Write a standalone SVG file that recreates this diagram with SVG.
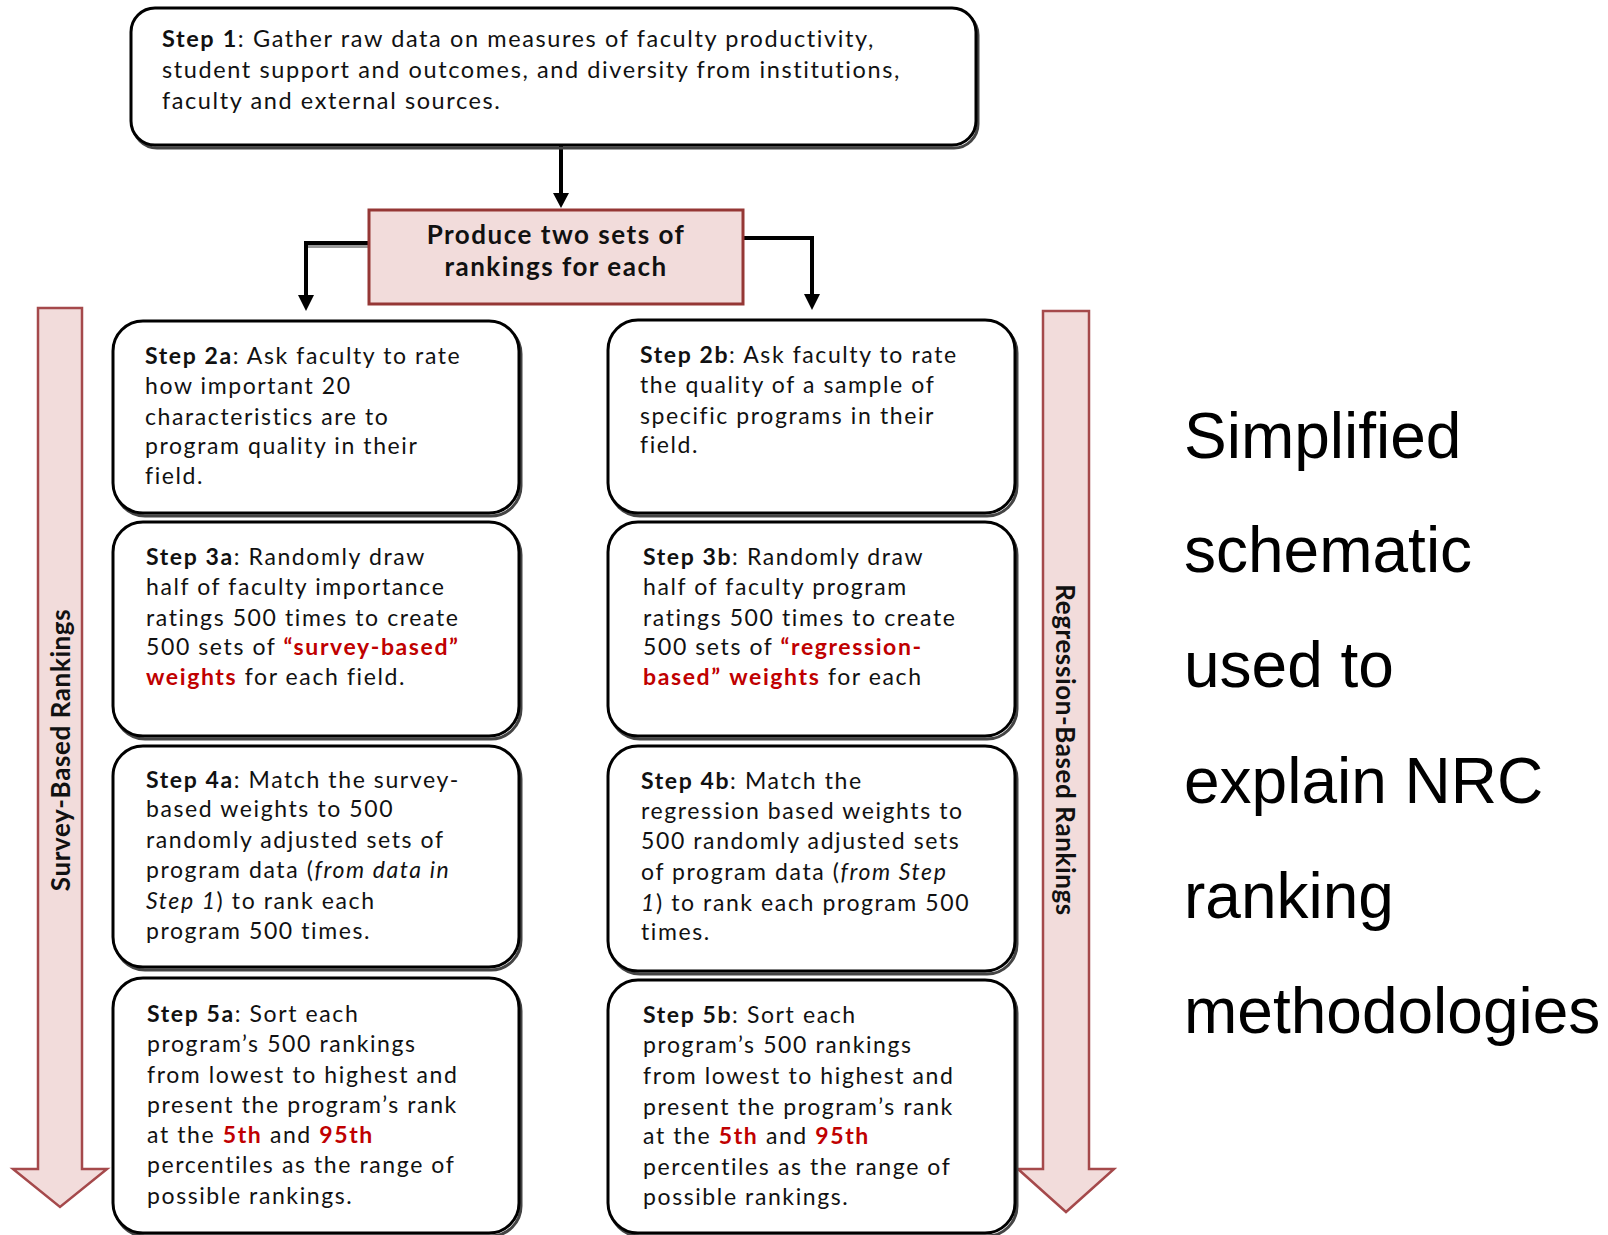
<svg xmlns="http://www.w3.org/2000/svg" width="1608" height="1235" viewBox="0 0 1608 1235">
<style>
.box{fill:#fff;stroke:#000;stroke-width:3}
.shadow{fill:none;stroke:#444;stroke-width:3}
.t{font-family:Lato,"Liberation Sans",sans-serif;font-size:23px;letter-spacing:1.6px;fill:#111}
.t1{font-family:Lato,"Liberation Sans",sans-serif;font-size:23.5px;letter-spacing:1.6px;fill:#111}
.b{font-weight:bold}
.i{font-style:italic}
.r{fill:#c00000;font-weight:bold}
.pink{fill:#f2dcdb;stroke:#953735;stroke-width:3}
.pt{font-family:Lato,"Liberation Sans",sans-serif;font-size:26px;letter-spacing:1.5px;font-weight:bold;fill:#111;text-anchor:middle}
.band{fill:#f2dcdb;stroke:#a5494b;stroke-width:2.5}
.bt{font-family:Lato,"Liberation Sans",sans-serif;font-size:26px;letter-spacing:0.6px;font-weight:bold;fill:#111;text-anchor:middle}
.conn{fill:none;stroke:#000;stroke-width:4}
.title{font-family:"Liberation Sans",Arial,sans-serif;font-size:64px;fill:#000}
</style>
<rect width="1608" height="1235" fill="#fff"/>

<g id="connectors">
<line class="conn" x1="561" y1="146" x2="561" y2="194"/>
<path d="M553,193 L569,193 L561,208 Z" fill="#000"/>
<path d="M369,246 L308,246" fill="none" stroke="#999" stroke-width="4"/>
<path class="conn" d="M369,243 L306,243 L306,296"/>
<path d="M298,295 L314,295 L306,311 Z" fill="#000"/>
<path class="conn" d="M743,238 L812,238 L812,295"/>
<path d="M804,294 L820,294 L812,310 Z" fill="#000"/>
</g>

<g id="survey-band">
<path class="band" d="M38,308 L82,308 L82,1169 L107,1169 L60,1207 L13,1169 L38,1169 Z"/>
<text class="bt" transform="translate(70,750) rotate(-90)">Survey-Based Rankings</text>
</g>

<g id="regression-band">
<path class="band" d="M1043,311 L1089,311 L1089,1169 L1114,1169 L1066,1212 L1018,1169 L1043,1169 Z"/>
<text class="bt" transform="translate(1056,750) rotate(90)">Regression-Based Rankings</text>
</g>

<g id="step1">
<rect class="shadow" x="133" y="11" width="845" height="137" rx="24"/>
<rect class="box" x="131" y="8" width="845" height="137" rx="24"/>
<text class="t1" x="162" y="47"><tspan class="b">Step 1</tspan>: Gather raw data on measures of faculty productivity,</text>
<text class="t1" x="162" y="78">student support and outcomes, and diversity from institutions,</text>
<text class="t1" x="162" y="109">faculty and external sources.</text>
</g>

<g id="produce">
<rect class="pink" x="369" y="210" width="374" height="94"/>
<text class="pt" x="556" y="244">Produce two sets of</text>
<text class="pt" x="556" y="276">rankings for each</text>
</g>

<g id="step2a">
<rect class="shadow" x="115" y="324" width="406" height="192" rx="30"/>
<rect class="box" x="113" y="321" width="406" height="192" rx="30"/>
<text class="t" x="145" y="364"><tspan class="b">Step 2a</tspan>: Ask faculty to rate</text>
<text class="t" x="145" y="394">how important 20</text>
<text class="t" x="145" y="425">characteristics are to</text>
<text class="t" x="145" y="454">program quality in their</text>
<text class="t" x="145" y="484">field.</text>
</g>

<g id="step3a">
<rect class="shadow" x="115" y="525" width="406" height="214" rx="30"/>
<rect class="box" x="113" y="522" width="406" height="214" rx="30"/>
<text class="t" x="146" y="565"><tspan class="b">Step 3a</tspan>: Randomly draw</text>
<text class="t" x="146" y="595">half of faculty importance</text>
<text class="t" x="146" y="626">ratings 500 times to create</text>
<text class="t" x="146" y="655">500 sets of <tspan class="r">“survey-based”</tspan></text>
<text class="t" x="146" y="685"><tspan class="r">weights</tspan> for each field.</text>
</g>

<g id="step4a">
<rect class="shadow" x="115" y="749" width="406" height="221" rx="30"/>
<rect class="box" x="113" y="746" width="406" height="221" rx="30"/>
<text class="t" x="146" y="788"><tspan class="b">Step 4a</tspan>: Match the survey-</text>
<text class="t" x="146" y="817">based weights to 500</text>
<text class="t" x="146" y="848">randomly adjusted sets of</text>
<text class="t" x="146" y="878">program data (<tspan class="i">from data in</tspan></text>
<text class="t" x="146" y="909"><tspan class="i">Step 1</tspan>) to rank each</text>
<text class="t" x="146" y="939">program 500 times.</text>
</g>

<g id="step5a">
<rect class="shadow" x="115" y="981" width="406" height="255" rx="30"/>
<rect class="box" x="113" y="978" width="406" height="255" rx="30"/>
<text class="t" x="147" y="1022"><tspan class="b">Step 5a</tspan>: Sort each</text>
<text class="t" x="147" y="1052">program’s 500 rankings</text>
<text class="t" x="147" y="1083">from lowest to highest and</text>
<text class="t" x="147" y="1113">present the program’s rank</text>
<text class="t" x="147" y="1143">at the <tspan class="r">5th</tspan> and <tspan class="r">95th</tspan></text>
<text class="t" x="147" y="1173">percentiles as the range of</text>
<text class="t" x="147" y="1204">possible rankings.</text>
</g>

<g id="step2b">
<rect class="shadow" x="610" y="323" width="407" height="193" rx="30"/>
<rect class="box" x="608" y="320" width="407" height="193" rx="30"/>
<text class="t" x="640" y="363"><tspan class="b">Step 2b</tspan>: Ask faculty to rate</text>
<text class="t" x="640" y="393">the quality of a sample of</text>
<text class="t" x="640" y="424">specific programs in their</text>
<text class="t" x="640" y="453">field.</text>
</g>

<g id="step3b">
<rect class="shadow" x="610" y="525" width="407" height="214" rx="30"/>
<rect class="box" x="608" y="522" width="407" height="214" rx="30"/>
<text class="t" x="643" y="565"><tspan class="b">Step 3b</tspan>: Randomly draw</text>
<text class="t" x="643" y="595">half of faculty program</text>
<text class="t" x="643" y="626">ratings 500 times to create</text>
<text class="t" x="643" y="655">500 sets of <tspan class="r">“regression-</tspan></text>
<text class="t" x="643" y="685"><tspan class="r">based”</tspan> <tspan class="r">weights</tspan> for each</text>
</g>

<g id="step4b">
<rect class="shadow" x="610" y="749" width="407" height="225" rx="30"/>
<rect class="box" x="608" y="746" width="407" height="225" rx="30"/>
<text class="t" x="641" y="789"><tspan class="b">Step 4b</tspan>: Match the</text>
<text class="t" x="641" y="819">regression based weights to</text>
<text class="t" x="641" y="849">500 randomly adjusted sets</text>
<text class="t" x="641" y="880">of program data (<tspan class="i">from Step</tspan></text>
<text class="t" x="641" y="911"><tspan class="i">1</tspan>) to rank each program 500</text>
<text class="t" x="641" y="940">times.</text>
</g>

<g id="step5b">
<rect class="shadow" x="610" y="983" width="407" height="253" rx="30"/>
<rect class="box" x="608" y="980" width="407" height="253" rx="30"/>
<text class="t" x="643" y="1023"><tspan class="b">Step 5b</tspan>: Sort each</text>
<text class="t" x="643" y="1053">program’s 500 rankings</text>
<text class="t" x="643" y="1084">from lowest to highest and</text>
<text class="t" x="643" y="1115">present the program’s rank</text>
<text class="t" x="643" y="1144">at the <tspan class="r">5th</tspan> and <tspan class="r">95th</tspan></text>
<text class="t" x="643" y="1175">percentiles as the range of</text>
<text class="t" x="643" y="1205">possible rankings.</text>
</g>

<g id="caption">
<text class="title" x="1184" y="458">Simplified</text>
<text class="title" x="1184" y="572">schematic</text>
<text class="title" x="1184" y="687">used to</text>
<text class="title" x="1184" y="803">explain NRC</text>
<text class="title" x="1184" y="918">ranking</text>
<text class="title" x="1184" y="1033">methodologies</text>
</g>
</svg>
